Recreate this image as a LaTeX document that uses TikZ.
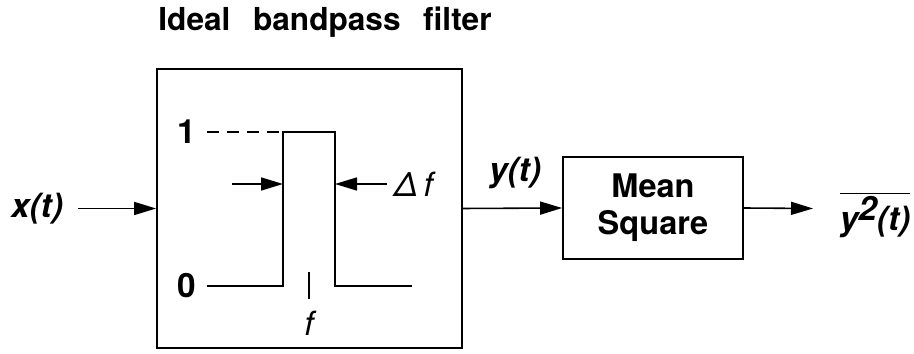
\documentclass[tikz,border=0pt]{standalone}
\usepackage{fontspec}
\setmainfont{TeX Gyre Heros}
\usetikzlibrary{arrows.meta, positioning, calc}
\tikzset{
  blk/.style={draw, line width=1pt, minimum width=6.1cm, minimum height=5.58cm, inner sep=0pt},
  msblk/.style={draw, line width=1pt, minimum width=3.6cm, minimum height=2.04cm, align=center,
    font=\fontsize{18.5}{21}\selectfont\bfseries},
  sig/.style={font=\fontsize{19}{21}\selectfont\bfseries\itshape},
  lvl/.style={font=\fontsize{19}{21}\selectfont\bfseries},
  frq/.style={font=\fontsize{19}{21}\selectfont\itshape},
  flow/.style={-{Triangle[length=4.4mm, width=2.6mm]}, line width=0.9pt},
  trace/.style={line width=0.9pt},
}

\begin{document}
\begin{tikzpicture}
    \useasboundingbox (0,0) rectangle (18.28,7.08);
    % blocks
    \node[blk] (bpf) at (6.19,2.91) {};
    \node[msblk] (ms) at (13.06,2.92) {Mean\\Square};
    \node[font=\fontsize{18}{20}\selectfont\bfseries] (title) at (6.5,6.64)
      {Ideal\hspace{0.45cm}bandpass\hspace{0.45cm}filter};
    % signals
    \node[sig] (xin) at (0.74,2.91) {x(t)};
    \coordinate (xs) at (1.56,2.91);
    \draw[flow] (xs) -- (bpf.west);
    \draw[flow] (bpf.east) -- (ms.west);
    \node[sig] (yout) at (10.3,3.62) {y(t)};
    \coordinate (ye) at (16.26,2.91);
    \draw[flow] (ms.east) -- (ye);
    \node[sig, inner sep=1pt] (ysq) at (17.5,2.78) {$\overline{\hbox{\bfseries\itshape y\raisebox{0.55ex}{2}(t)}}$};
    % passband
    \coordinate (a0) at (4.14,1.36);
    \coordinate (a1) at (4.14,4.44);
    \coordinate (lo) at (5.66,1.36);
    \coordinate (hi) at (6.70,1.36);
    \coordinate (b0) at (8.24,1.36);
    \draw[trace, dash pattern=on 0.24cm off 0.16cm] (a1) -- (5.66,4.44);
    \draw[trace] (a0) -- (lo) |- (hi |- a1) -- (hi) -- (b0);
    \node[lvl, left=0.1cm of a1] (one) {1};
    \node[lvl, left=0.1cm of a0] (zero) {0};
    \draw[trace] (6.18,1.10) -- (6.18,1.64);
    \node[frq] (fc) at (6.18,0.62) {f};
    % bandwidth arrows
    \coordinate (wl) at (4.64,3.40);
    \coordinate (wr) at (7.74,3.40);
    \draw[flow] (wl) -- (lo |- wl);
    \draw[flow] (wr) -- (hi |- wr);
    \node[frq, right=0.02cm of wr] (df) {Δ\,f};
\end{tikzpicture}
\end{document}
